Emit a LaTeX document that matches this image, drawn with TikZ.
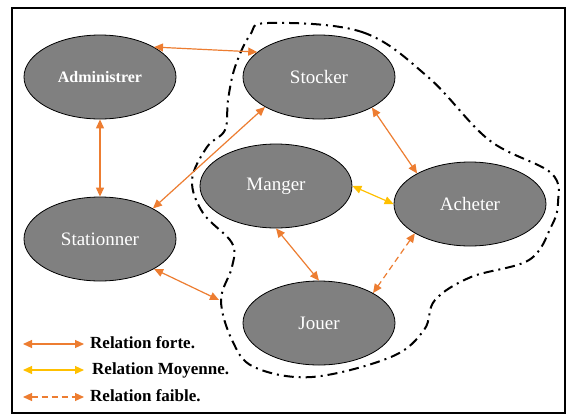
\documentclass[tikz,border=0pt]{standalone}
\usepackage{fontspec}
\setmainfont{Liberation Serif}
\usetikzlibrary{shapes.geometric,arrows.meta}
\definecolor{ora}{HTML}{ED7D31}
\definecolor{yel}{HTML}{FFC000}
\definecolor{ell}{HTML}{808080}
\tikzset{
  usecase/.style={ellipse,draw=black,line width=0.8pt,fill=ell,minimum width=152pt,minimum height=84pt,inner sep=0pt,text=white,font=\fontsize{19}{19}\selectfont},
  strong/.style={draw=ora,line width=1.2pt,{Triangle[length=9pt,width=8pt]}-{Triangle[length=9pt,width=8pt]}},
  medium/.style={strong,draw=yel},
  weak/.style={strong,dash pattern=on 6pt off 4pt},
  legtext/.style={anchor=west,font=\bfseries\fontsize{17}{17}\selectfont,inner sep=0pt},
  boundary/.style={draw=black,line width=2pt,dash pattern=on 10pt off 5pt on 2pt off 5pt}
}
\begin{document}
\begin{tikzpicture}[x=1pt,y=-1pt]
\useasboundingbox (0,0) rectangle (568,416);
\fill[white] (0,0) rectangle (568,416);
\draw[line width=2.5pt] (12,8) rectangle (565,413);

\draw[boundary] plot[smooth cycle,tension=0.6] coordinates {
 (268,23) (362,32) (428,77) (489,140) (551,173) (558,203) (551,227) (529,260)
 (471,277) (435,300) (424,330) (391,357) (312,377) (254,367) (232,340) (221,300)
 (232,267) (232,243) (203,213) (192,180) (207,147) (225,130) (228,100) (235,67) (250,35)};

\node[usecase,font=\bfseries\fontsize{16}{16}\selectfont] (adm) at (100,77) {Administrer};
\node[usecase] (sto) at (319,77) {Stocker};
\node[usecase] (man) at (276,186) {Manger};
\node[usecase] (ach) at (470,204) {Acheter};
\node[usecase] (sta) at (100,239) {Stationner};
\node[usecase] (jou) at (319,323) {Jouer};

\coordinate (free) at (219,300);

\draw[strong] (adm.29) -- (sto.158);
\draw[strong] (adm.south) -- (sta.north);
\draw[strong] (sto.209) -- (sta.30);
\draw[strong] (sto.-30) -- (ach.150);
\draw[medium] (man.east) -- (ach.west);
\draw[strong] (man.south) -- (jou.north);
\draw[weak] (ach.208) -- (jou.29);
\draw[strong] (sta.-29) -- (free);

\coordinate (l1a) at (23,344); \coordinate (l1b) at (84,344);
\coordinate (l2a) at (23,370); \coordinate (l2b) at (84,370);
\coordinate (l3a) at (23,397); \coordinate (l3b) at (84,397);
\draw[strong] (l1a) -- (l1b);
\draw[medium] (l2a) -- (l2b);
\draw[weak] (l3a) -- (l3b);
\node[legtext] (t1) at (90,343) {Relation forte.};
\node[legtext] (t2) at (92,370) {Relation Moyenne.};
\node[legtext] (t3) at (90,396) {Relation faible.};
\end{tikzpicture}
\end{document}
